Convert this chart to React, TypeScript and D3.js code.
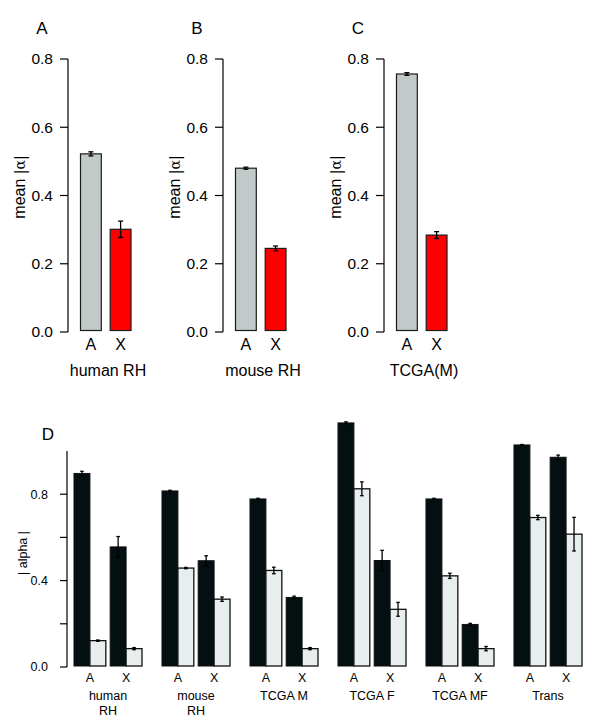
import React from "react";
import * as d3 from "d3";

// ---------- Data ----------
const topPanelLetters = ["A", "B", "C"];
const topGroupLabels = ["human RH", "mouse RH", "TCGA(M)"];
const topCategories = ["A", "X"];
const topMeans = [
  [0.522, 0.301],
  [0.48, 0.245],
  [0.756, 0.284],
];
const topErrors = [
  [0.006, 0.024],
  [0.003, 0.007],
  [0.004, 0.01],
];
const topTicks = [0, 0.2, 0.4, 0.6, 0.8];

const dGroupLabels = [["human", "RH"], ["mouse", "RH"], ["TCGA M"], ["TCGA F"], ["TCGA MF"], ["Trans"]];
const dCategories = ["A", "X"];
const dDarkMeans = [
  [0.896, 0.556],
  [0.815, 0.492],
  [0.778, 0.322],
  [1.13, 0.493],
  [0.778, 0.197],
  [1.028, 0.971],
];
const dDarkErrors = [
  [0.01, 0.048],
  [0.003, 0.023],
  [0.003, 0.006],
  [0.005, 0.047],
  [0.003, 0.005],
  [0.002, 0.01],
];
const dLightMeans = [
  [0.122, 0.085],
  [0.458, 0.314],
  [0.447, 0.085],
  [0.825, 0.267],
  [0.422, 0.085],
  [0.692, 0.615],
];
const dLightErrors = [
  [0.003, 0.005],
  [0.003, 0.01],
  [0.015, 0.005],
  [0.032, 0.032],
  [0.012, 0.01],
  [0.01, 0.078],
];
const dTicks = [0, 0.2, 0.4, 0.6, 0.8];
const dTickLabels = ["0.0", "", "0.4", "", "0.8"];

// ---------- Layout ----------
const FONT = "Arial, 'Liberation Sans', Helvetica, sans-serif";
const topAxisX = [68, 223, 384];
const topColors = ["#c1cac9", "#ff0000"];
const DARK = "#030f11";
const LIGHT = "#e8eeee";

function TopPanel({ idx }: { idx: number }) {
  const ax = topAxisX[idx];
  const y = d3.scaleLinear().domain([0, 0.8]).range([332, 59]);
  const x = d3.scaleBand<string>().domain(topCategories).range([ax + 12.5, ax + 63]).paddingInner(0.3).paddingOuter(0);
  const fmt = d3.format(".1f");
  return (
    <g>
      <text x={ax - 26} y={34} fontSize={17} fontFamily={FONT} textAnchor="middle">
        {topPanelLetters[idx]}
      </text>
      <line x1={ax} x2={ax} y1={y(0.8)} y2={y(0)} stroke="#000" strokeWidth={1.2} />
      {topTicks.map((t) => (
        <g key={t}>
          <line x1={ax - 8} x2={ax} y1={y(t)} y2={y(t)} stroke="#000" strokeWidth={1.2} />
          <text x={ax - 15} y={y(t)} dy="0.35em" fontSize={15.5} fontFamily={FONT} textAnchor="end">
            {fmt(t)}
          </text>
        </g>
      ))}
      <text
        transform={`translate(${ax - 49},${187}) rotate(-90)`}
        fontSize={16}
        fontFamily={FONT}
        textAnchor="middle"
        dy="0.35em"
      >
        mean <tspan fontSize={14} fontFamily="'DejaVu Serif', serif">|α|</tspan>
      </text>
      {topCategories.map((c, i) => {
        const v = topMeans[idx][i];
        const e = topErrors[idx][i];
        const bx = x(c)!;
        const bw = x.bandwidth();
        const cx = bx + bw / 2;
        return (
          <g key={c}>
            <rect x={bx} y={y(v)} width={bw} height={y(0) - y(v) - 1.5} fill={topColors[i]} stroke="#1a1a1a" strokeWidth={1.2} />
            <line x1={cx} x2={cx} y1={y(v + e)} y2={y(v - e)} stroke="#000" strokeWidth={1.3} />
            <line x1={cx - 2.5} x2={cx + 2.5} y1={y(v + e)} y2={y(v + e)} stroke="#000" strokeWidth={1.3} />
            <line x1={cx - 2.5} x2={cx + 2.5} y1={y(v - e)} y2={y(v - e)} stroke="#000" strokeWidth={1.3} />
            <text x={cx} y={350} fontSize={16} fontFamily={FONT} textAnchor="middle">
              {c}
            </text>
          </g>
        );
      })}
      <text x={ax + 40} y={376} fontSize={16} fontFamily={FONT} textAnchor="middle">
        {topGroupLabels[idx]}
      </text>
    </g>
  );
}

function PanelD() {
  const ax = 67;
  const y = d3.scaleLinear().domain([0, 1]).range([667, 451]);
  const groupNames = dGroupLabels.map((l) => l.join(" "));
  const xg = d3.scaleBand<string>().domain(groupNames).range([74, 582]).paddingInner(0.227).paddingOuter(0);
  const xp = d3.scaleBand<string>().domain(dCategories).range([0, xg.bandwidth()]).paddingInner(0.12).paddingOuter(0);
  const xs = d3.scaleBand<string>().domain(["dark", "light"]).range([0, xp.bandwidth()]).padding(0);
  const bw = xs.bandwidth();
  const renderErr = (cx: number, v: number, e: number, key: string) => (
    <g key={key}>
      <line x1={cx} x2={cx} y1={y(v + e)} y2={y(v - e)} stroke="#000" strokeWidth={1.3} />
      <line x1={cx - 1.8} x2={cx + 1.8} y1={y(v + e)} y2={y(v + e)} stroke="#000" strokeWidth={1.3} />
      <line x1={cx - 1.8} x2={cx + 1.8} y1={y(v - e)} y2={y(v - e)} stroke="#000" strokeWidth={1.3} />
    </g>
  );
  return (
    <g>
      <text x={48} y={440} fontSize={17} fontFamily={FONT} textAnchor="middle">
        D
      </text>
      <line x1={ax} x2={ax} y1={y(1)} y2={y(0)} stroke="#000" strokeWidth={1.2} />
      {dTicks.map((t, i) => (
        <g key={t}>
          <line x1={ax - 7} x2={ax} y1={y(t)} y2={y(t)} stroke="#000" strokeWidth={1.2} />
          <text x={ax - 19} y={y(t)} dy="0.35em" fontSize={12.5} fontFamily={FONT} textAnchor="end">
            {dTickLabels[i]}
          </text>
        </g>
      ))}
      <text transform={`translate(23,553) rotate(-90)`} fontSize={12.5} fontFamily={FONT} textAnchor="middle" dy="0.35em">
        | alpha |
      </text>
      {groupNames.map((g, gi) => {
        const gx = xg(g)!;
        return (
          <g key={g}>
            {dCategories.map((c, ci) => {
              const px = gx + xp(c)!;
              const dv = dDarkMeans[gi][ci];
              const lv = dLightMeans[gi][ci];
              const dx = px + xs("dark")!;
              const lx = px + xs("light")!;
              return (
                <g key={c}>
                  <rect x={dx} y={y(dv)} width={bw} height={y(0) - y(dv) - 1} fill={DARK} stroke="#111" strokeWidth={1} />
                  <rect x={lx} y={y(lv)} width={bw} height={y(0) - y(lv) - 1} fill={LIGHT} stroke="#111" strokeWidth={1.3} />
                  {renderErr(dx + bw / 2, dv, dDarkErrors[gi][ci], "d")}
                  {renderErr(lx + bw / 2, lv, dLightErrors[gi][ci], "l")}
                  <text x={px + xp.bandwidth() / 2} y={682} fontSize={12.5} fontFamily={FONT} textAnchor="middle">
                    {c}
                  </text>
                </g>
              );
            })}
            {dGroupLabels[gi].map((line, li) => (
              <text key={li} x={gx + xg.bandwidth() / 2} y={700 + li * 14.5} fontSize={12.5} fontFamily={FONT} textAnchor="middle">
                {line}
              </text>
            ))}
          </g>
        );
      })}
    </g>
  );
}

export default function App() {
  return (
    <svg width={600} height={726} style={{ position: "absolute", left: 0, top: 0, background: "#fff" }}>
      <rect width={600} height={726} fill="#fff" />
      {topPanelLetters.map((_, i) => (
        <TopPanel key={i} idx={i} />
      ))}
      <PanelD />
    </svg>
  );
}
